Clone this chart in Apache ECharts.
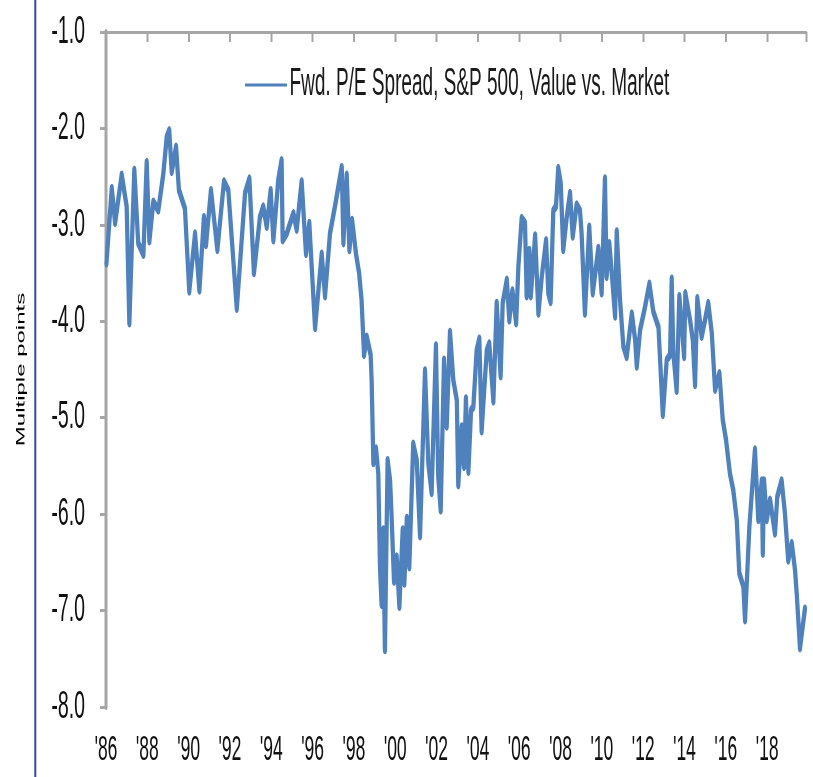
<!DOCTYPE html>
<html><head><meta charset="utf-8">
<script src="https://cdn.jsdelivr.net/npm/echarts@6/dist/echarts.min.js"></script>
<style>
html,body{margin:0;padding:0;overflow:hidden;background:#fff;width:813px;height:777px}
#wrap{width:813px;height:777px;overflow:hidden;position:relative;background:#fff}
#main{position:absolute;left:0;top:0;height:777px;transform-origin:0 0}
</style></head><body><div id="wrap"><div id="main"></div></div>
<script>
// ---- data ----
const years = [
 1986.02,1986.28,1986.44,1986.76,1987.00,1987.13,1987.37,1987.56,1987.81,1987.97,
 1988.10,1988.29,1988.53,1988.77,1988.94,1989.06,1989.18,1989.39,1989.53,1989.82,
 1990.03,1990.31,1990.52,1990.74,1990.84,1991.08,1991.39,1991.71,1991.92,1992.33,
 1992.73,1992.94,1993.16,1993.45,1993.61,1993.78,1993.97,1994.10,1994.34,1994.50,
 1994.55,1994.75,1995.07,1995.23,1995.47,1995.68,1995.84,1996.12,1996.44,1996.60,
 1996.84,1997.08,1997.41,1997.49,1997.65,1997.78,1997.91,1998.10,1998.25,1998.37,
 1998.49,1998.62,1998.81,1998.86,1998.94,1999.07,1999.18,1999.26,1999.34,1999.42,
 1999.50,1999.63,1999.75,1999.83,1999.94,2000.07,2000.20,2000.36,2000.44,2000.56,
 2000.68,2000.87,2001.04,2001.20,2001.44,2001.60,2001.76,2001.97,2002.08,2002.20,
 2002.36,2002.49,2002.65,2002.81,2002.98,2003.05,2003.22,2003.33,2003.42,2003.54,
 2003.67,2003.78,2003.94,2004.07,2004.18,2004.43,2004.55,2004.75,2004.91,2005.10,
 2005.20,2005.40,2005.52,2005.67,2005.85,2005.96,2006.12,2006.28,2006.36,2006.49,
 2006.56,2006.77,2006.93,2007.09,2007.30,2007.41,2007.52,2007.65,2007.78,2007.89,
 2008.01,2008.13,2008.30,2008.46,2008.59,2008.78,2008.94,2009.02,2009.18,2009.39,
 2009.56,2009.83,2009.99,2010.15,2010.23,2010.36,2010.48,2010.64,2010.72,2010.88,
 2011.04,2011.20,2011.45,2011.61,2011.69,2011.85,2012.09,2012.30,2012.49,2012.74,
 2012.95,2013.14,2013.30,2013.38,2013.46,2013.62,2013.75,2013.86,2013.98,2014.04,
 2014.27,2014.40,2014.51,2014.62,2014.83,2014.99,2015.15,2015.32,2015.48,2015.69,
 2015.85,2016.01,2016.20,2016.36,2016.53,2016.65,2016.85,2016.93,2017.14,2017.41,
 2017.57,2017.74,2017.79,2017.85,2017.98,2018.14,2018.38,2018.49,2018.70,2018.86,
 2019.02,2019.19,2019.35,2019.43,2019.59,2019.83
];
const spread = [
 -3.40,-2.62,-2.98,-2.48,-2.81,-4.02,-2.43,-3.19,-3.31,-2.35,
 -3.17,-2.76,-2.85,-2.48,-2.09,-2.02,-2.45,-2.19,-2.64,-2.83,
 -3.69,-3.09,-3.68,-2.92,-3.21,-2.64,-3.26,-2.55,-2.64,-3.87,
 -2.67,-2.52,-3.50,-2.92,-2.81,-3.02,-2.64,-3.16,-2.53,-2.33,
 -3.16,-3.09,-2.88,-3.05,-2.55,-3.30,-2.98,-4.07,-3.30,-3.74,
 -3.09,-2.81,-2.40,-3.19,-2.48,-3.26,-2.95,-3.30,-3.50,-3.78,
 -4.35,-4.16,-4.35,-4.64,-5.47,-5.32,-5.58,-6.55,-6.94,-6.16,
 -7.41,-5.44,-5.65,-6.06,-6.70,-6.44,-6.96,-6.16,-6.72,-6.04,
 -6.55,-5.27,-5.44,-6.23,-4.51,-5.47,-5.78,-4.25,-5.61,-5.96,
 -4.40,-5.09,-4.11,-4.61,-4.82,-5.70,-5.09,-5.51,-4.80,-5.56,
 -4.92,-4.89,-4.30,-4.18,-5.14,-4.30,-4.23,-4.83,-3.81,-4.57,
 -3.81,-3.57,-3.99,-3.68,-4.02,-3.43,-2.93,-2.98,-3.74,-3.26,
 -3.74,-3.11,-3.92,-3.54,-3.16,-3.71,-3.80,-2.85,-2.81,-2.41,
 -2.57,-3.26,-2.92,-2.67,-3.12,-2.79,-2.85,-3.09,-3.92,-3.02,
 -3.71,-3.24,-3.71,-2.52,-3.54,-3.19,-3.50,-3.95,-3.07,-3.78,
 -4.26,-4.37,-3.92,-4.19,-4.47,-4.09,-3.85,-3.61,-3.90,-4.06,
 -4.97,-4.40,-4.35,-3.56,-4.33,-4.72,-3.74,-4.02,-4.37,-3.71,
 -3.99,-4.19,-4.66,-3.76,-4.16,-3.99,-3.81,-4.12,-4.71,-4.54,
 -5.02,-5.23,-5.58,-5.75,-6.06,-6.61,-6.75,-7.10,-6.13,-5.33,
 -6.06,-5.65,-6.41,-5.65,-6.06,-5.85,-6.20,-5.82,-5.65,-5.99,
 -6.48,-6.30,-6.58,-6.82,-7.39,-6.98
];
const seriesName = 'Fwd. P/E Spread, S&P 500, Value vs. Market';
const yAxisTitle = 'Multiple points';
const xStart = 1986, xEnd = 2019.9, xStep = 2;
const yStart = -8, yEnd = -1, yStep = 1;

// ---- rendering ----
const R = 0.5;                        // horizontal squeeze of the reference picture
const W = Math.round(813 / R);
const sx = v => v / R;
const el = document.getElementById('main');
el.style.width = W + 'px';
el.style.transform = 'scaleX(' + R + ')';
const chart = echarts.init(el, null, {renderer: 'canvas', width: W, height: 777});

const sans = "'Liberation Sans',Arial,sans-serif";
const grey = '#a6a6a6';
const blue = '#4f81bd';

const option = {
  animation: false,
  backgroundColor: '#fff',
  grid: {left: sx(106), top: 32, width: sx(806.4 - 106), height: 675, containLabel: false},
  legend: {
    show: true, left: sx(245), top: 66, padding: 0,
    data: [{name: seriesName, icon: 'rect'}],
    itemWidth: sx(42), itemHeight: 3,
    textStyle: {fontFamily: sans, fontSize: 38, color: '#1a1a1a'}
  },
  xAxis: [
    {type: 'value', position: 'top', min: xStart, max: xEnd, interval: xStep,
     axisLine: {show: true, onZero: false, lineStyle: {color: grey, width: 3}},
     axisTick: {show: true, inside: true, length: 10, lineStyle: {color: grey, width: sx(2)}},
     axisLabel: {show: false}, splitLine: {show: false}},
    {type: 'value', position: 'bottom', min: xStart, max: xEnd, interval: xStep,
     axisLine: {show: false, onZero: false}, axisTick: {show: false}, splitLine: {show: false},
     axisLabel: {show: true, margin: 26, fontSize: 35, fontFamily: sans, color: '#111',
       showMaxLabel: false,
       formatter: v => (Math.abs(v - Math.round(v)) > 0.01) ? '' : "'" + String(Math.round(v) % 100).padStart(2, '0')}}
  ],
  yAxis: {
    type: 'value', min: yStart, max: yEnd, interval: yStep,
    axisLine: {show: true, onZero: false, lineStyle: {color: grey, width: sx(3)}},
    axisTick: {show: true, length: sx(6), lineStyle: {color: grey, width: 3}},
    axisLabel: {margin: sx(21), fontSize: 39, fontFamily: sans, color: '#111', formatter: v => v.toFixed(1)},
    splitLine: {show: false},
    name: yAxisTitle, nameLocation: 'middle', nameRotate: 90, nameGap: sx(79),
    nameTextStyle: {fontFamily: sans, fontSize: 24, color: '#000'}
  },
  series: [{
    type: 'line', name: seriesName, xAxisIndex: 0, yAxisIndex: 0,
    data: years.map((y, i) => [y, spread[i]]),
    symbol: 'none', showSymbol: false,
    lineStyle: {color: blue, width: 8.5, join: 'round', cap: 'round'},
    itemStyle: {color: blue}
  }],
  graphic: [{type: 'rect', silent: true, shape: {x: sx(34.3), y: 0, width: sx(2), height: 777}, style: {fill: '#2b4ca8'}}]
};
chart.setOption(option);
</script></body></html>
